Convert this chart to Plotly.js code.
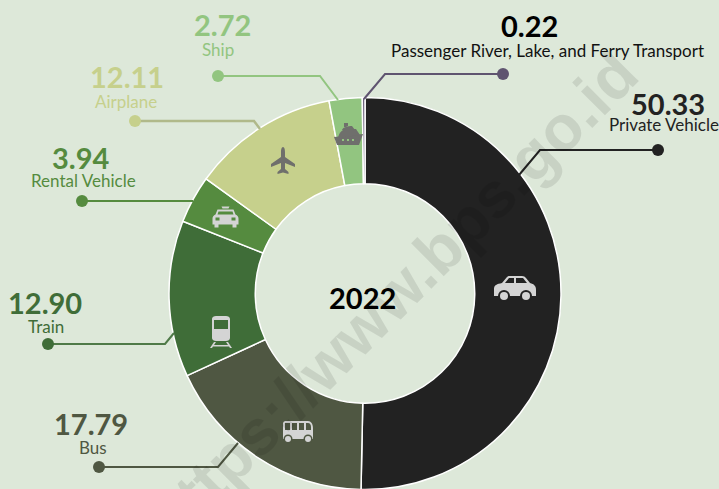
<!DOCTYPE html>
<html>
<head>
<meta charset="utf-8">
<script src="https://cdn.plot.ly/plotly-3.0.1.min.js"></script>
<style>html,body{margin:0;padding:0;width:719px;height:489px;overflow:hidden;background:#dde8d9}</style>
</head>
<body>
<div id="chart" style="width:719px;height:491px"></div>
<script>
// Data
var categories = ["Private Vehicle","Bus","Train","Rental Vehicle","Airplane","Ship","Passenger River, Lake, and Ferry Transport"];
var shares = [50.33,17.79,12.90,3.94,12.11,2.72,0.22];
var shareLabels = ["50.33","17.79","12.90","3.94","12.11","2.72","0.22"];
var colors = ["#222222","#4f5742","#3f6d38","#558b3f","#c6d08c","#92c580","#5f5470"];
var lineColors = ["#222222","#4f5742","#4f7a48","#558b3f","#b0b98a","#92c580","#5f5470"];
var centerLabel = "2022";

// Layout helpers (pixel placement of decorations)
var W = 719, H = 491;
function px(x){return x/W;}
function py(y){return 1-y/H;}
var valuePos = [[668,103],[91,423],[45,302],[81,157],[127,76],[222,24],[529,26]];
var namePos  = [[664,125],[93,447],[46,326],[83,180],[126,101],[218,49],[547,51]];
var leaders  = [
  [[658,150],[540,150],[519,175]],
  [[99,467],[218,467],[238,443]],
  [[48,344],[165,344],[174,333]],
  [[82,201],[193,201]],
  [[135,121],[254,121],[260,129]],
  [[218,76],[320,76],[338,100]],
  [[503,74],[385,74],[364,99]]
];
var shapes = [], annotations = [];
function toPaper(d,cx,cy,s){
  return d.replace(/(-?[\d.]+),(-?[\d.]+)/g,function(m,a,b){
    return px(cx+a*s).toFixed(5)+','+py(cy+b*s).toFixed(5);
  });
}
function icon(d,cx,cy,s,fill){
  shapes.push({type:'path',xref:'paper',yref:'paper',path:toPaper(d,cx,cy,s),fillcolor:fill,fillrule:'evenodd',line:{width:0}});
}
function dot(x,y,r,fill){
  shapes.push({type:'circle',xref:'paper',yref:'paper',x0:px(x-r),x1:px(x+r),y0:py(y+r),y1:py(y-r),fillcolor:fill,line:{width:0}});
}
function text(t,x,y,size,color,bold){
  annotations.push({text:bold?'<b>'+t+'</b>':t,xref:'paper',yref:'paper',x:px(x),y:py(y),xanchor:'center',yanchor:'middle',showarrow:false,
    font:{family:'Lato, Carlito, sans-serif',size:size,color:color}});
}

categories.forEach(function(c,i){
  var col = i===6 ? '#000000' : colors[i];
  var nameCol = i===6 ? '#111111' : colors[i];
  text(shareLabels[i],valuePos[i][0],valuePos[i][1],29,col,true);
  text(c,namePos[i][0],namePos[i][1],17,nameCol,false);
  var pts = leaders[i];
  var path = pts.map(function(p,k){return (k?'L':'M')+p[0]+','+p[1];}).join(' ');
  shapes.push({type:'path',xref:'paper',yref:'paper',path:toPaper(path,0,0,1),line:{color:lineColors[i],width:i===4?2.5:2}});
  dot(pts[0][0],pts[0][1],6,colors[i]);
});
text(centerLabel,362,297,29,'#000000',true);

// Icons
var LIGHT='#d4d4d4', GREY='#6f6f6c';
// car
icon('M-21,8 L-21,1 C-21,-3 -18,-4 -13,-5 L-8,-11 C-7,-12 -6,-12 -5,-12 L7,-12 C9,-12 10,-11 11,-10 L15,-5 C19,-4 21,-2 21,2 L21,8 Z M-10,-5 L-1,-5 L-1,-10 L-6,-10 Z M1,-5 L12,-5 L8,-10 L1,-10 Z',515,288,1,LIGHT);
dot(504,296,6,'#222222');dot(504,296,4,LIGHT);
dot(526,296,6,'#222222');dot(526,296,4,LIGHT);
// bus
icon('M-15,8 L-15,-7 C-15,-9 -14,-10 -12,-10 L10,-10 C13,-10 15,-7 15,-3 L15,8 Z M-13,-8 L-13,-1 L-8,-1 L-8,-8 Z M-6,-8 L-6,-1 L-1,-1 L-1,-8 Z M1,-8 L1,-1 L6,-1 L6,-8 Z M8,-8 L8,-1 L13,-1 L13,-4 C13,-6 12,-8 10,-8 Z',298,431,1,LIGHT);
dot(288,439,4.5,'#4f5742');dot(288,439,3,LIGHT);
dot(308,439,4.5,'#4f5742');dot(308,439,3,LIGHT);
// train
icon('M-9,-13 C-9,-15 -7,-16 -5,-16 L5,-16 C7,-16 9,-15 9,-13 L9,6 C9,8 7,9 5,9 L-5,9 C-7,9 -9,8 -9,6 Z M-7,-12 L-7,-3 L7,-3 L7,-12 Z',221,332,1,LIGHT);
icon('M-7,10 L-5,10 L-7,13 L7,13 L5,10 L7,10 L9,13 L11,16 L9,16 L8,14.5 L-8,14.5 L-9,16 L-11,16 L-9,13 Z',221,332,1,LIGHT);
// taxi
icon('M-4,-11 L-3,-9 L3,-9 L4,-11 Z M-8,-8 L8,-8 L10,-3 C12,-2 13,-1 13,1 L13,7 L11,7 L11,10 L7,10 L7,7 L-7,7 L-7,10 L-11,10 L-11,7 L-13,7 L-13,1 C-13,-1 -12,-2 -10,-3 Z M-7,-6 L-8,-3 L8,-3 L7,-6 Z M-10,0 L-10,3 L-6,3 L-6,0 Z M10,0 L10,3 L6,3 L6,0 Z',225.5,217.5,1,LIGHT);
// plane
icon('M0,-14 C1.5,-14 2,-11 2,-9 L2,-4 L12,3 L12,6 L2,2 L2,8 L5.5,11 L5.5,13 L0,11.5 L-5.5,13 L-5.5,11 L-2,8 L-2,2 L-12,6 L-12,3 L-2,-4 L-2,-9 C-2,-11 -1.5,-14 0,-14 Z',283,161,1,GREY);
// ship
icon('M-15,2 L14,-1 L10,10 L-12,10 Z M-7,4 L-7,6 L-5,6 L-5,4 Z M-2,4 L-2,6 L0,6 L0,4 Z M3,4 L3,6 L5,6 L5,4 Z',349,135,1,GREY);
icon('M-11,3 C-10,-3 -6,-6 -2,-6 L7,-6 L11,0 L-11,3 Z',349,135,1,GREY);
icon('M-7,-5 C-6,-8 -1,-9 3,-9 L6,-5 Z M-5,-8 L-5,-12 L-1,-12 L-1,-8 Z',349,135,1,GREY);

// Watermark
annotations.push({text:'<b>https://www.bps.go.id</b>',xref:'paper',yref:'paper',x:px(392),y:py(297),xanchor:'center',yanchor:'middle',textangle:-45,showarrow:false,
  font:{family:'Liberation Sans, Arial, sans-serif',size:64,color:'rgba(0,0,0,0.095)'}});

var R = 196, CX = 365, CY = 293.5;
var trace = {type:'pie',labels:categories,values:shares,sort:false,direction:'clockwise',rotation:0,hole:0.56,
  textinfo:'none',hoverinfo:'label+value',showlegend:false,
  marker:{colors:colors,line:{color:'#ffffff',width:1.5}},
  domain:{x:[(CX-R)/W,(CX+R)/W],y:[1-(CY+R)/H,1-(CY-R)/H]}};
var layout = {width:W,height:H,margin:{l:0,r:0,t:0,b:0,pad:0},paper_bgcolor:'#dde8d9',plot_bgcolor:'#dde8d9',showlegend:false,shapes:shapes,annotations:annotations};
Plotly.newPlot('chart',[trace],layout,{displayModeBar:false,staticPlot:true});
</script>
</body>
</html>
